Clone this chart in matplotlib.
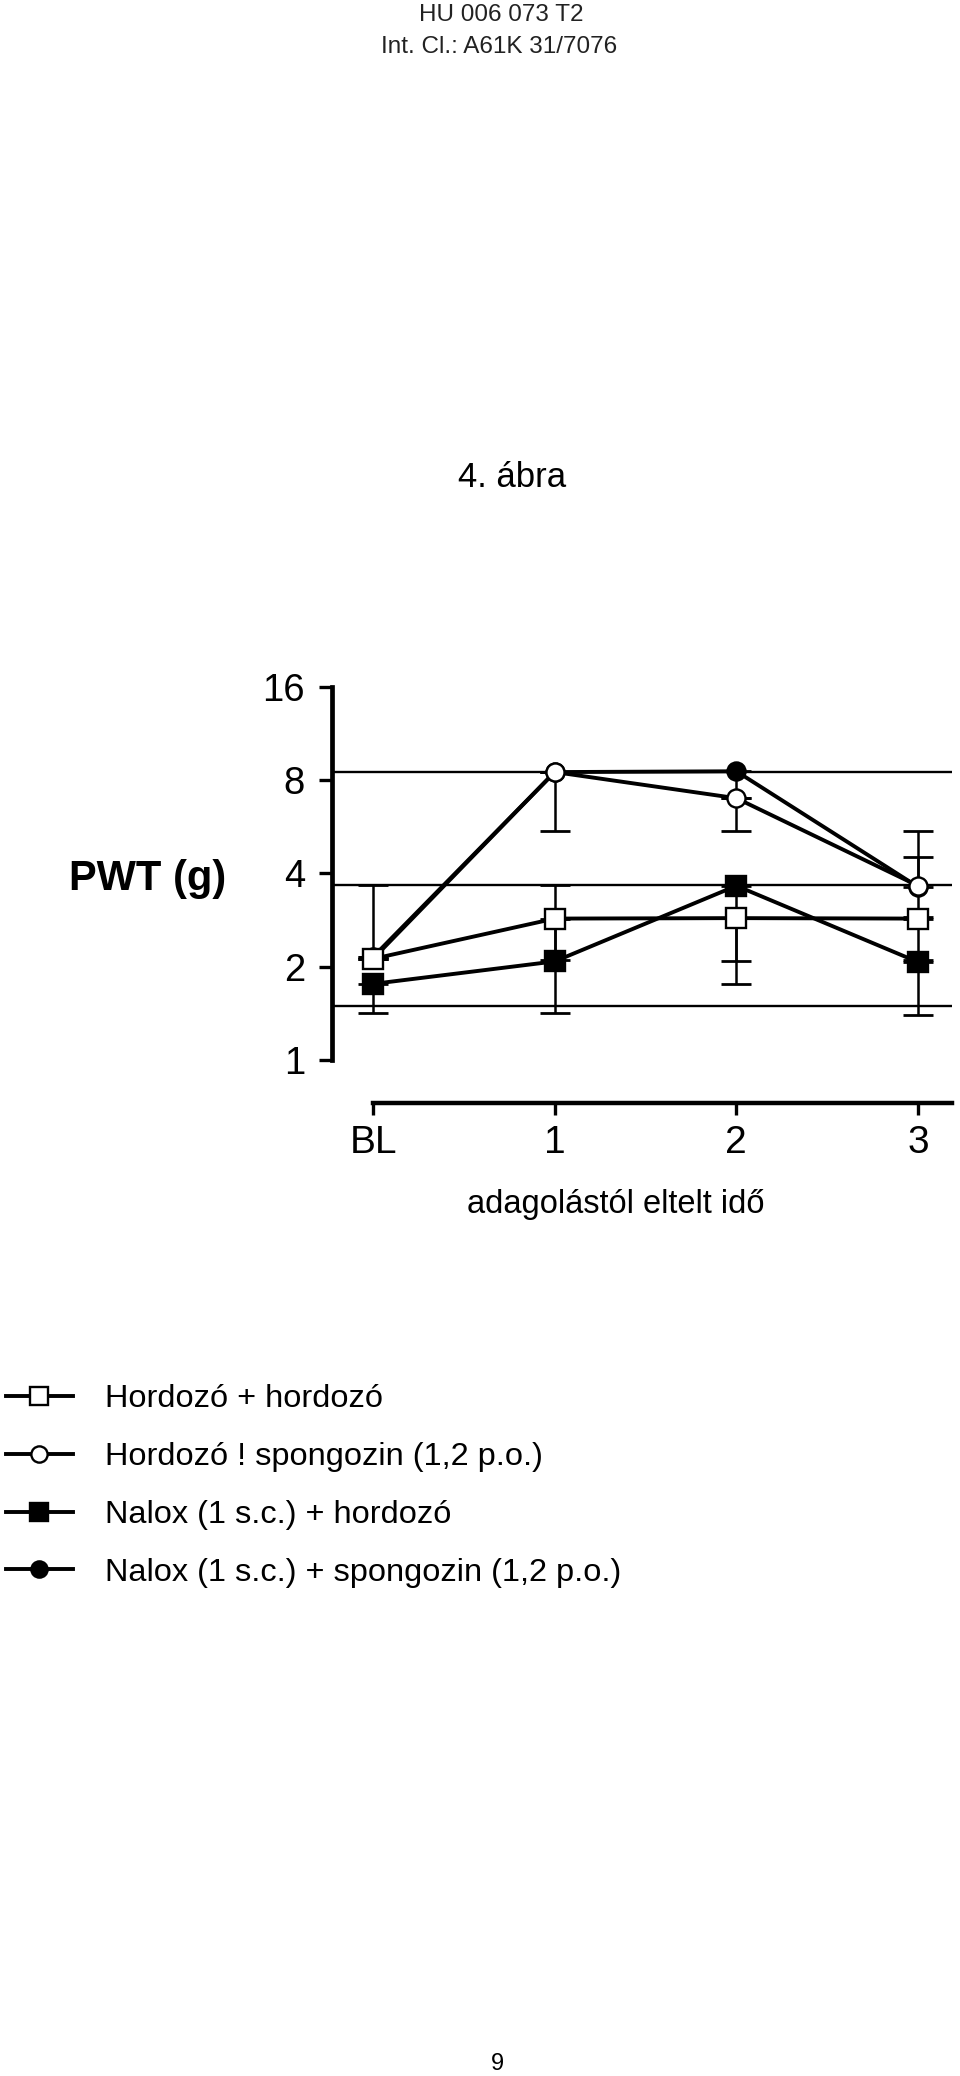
"""
4. ábra - PWT (g) vs. adagolástól eltelt idő
"""
import numpy as np
import matplotlib.pyplot as plt

plt.rcParams['font.family'] = ['Liberation Sans', 'DejaVu Sans']

W, H = 960, 2076

# x categories and y ticks
x_labels = ['BL', '1', '2', '3']
y_ticks = [1, 2, 4, 8, 16]

# mean values per group
hh = [2.12, 2.86, 2.87, 2.86]   # Hordozó + hordozó
hs = [2.15, 8.50, 7.00, 3.65]   # Hordozó ! spongozin
nh = [1.76, 2.08, 3.65, 2.07]   # Nalox + hordozó
ns = [2.12, 8.50, 8.55, 3.62]   # Nalox + spongozin

# error bar end points (same as mean -> no bar)
hh_lo = [2.12, 2.10, 2.09, 2.10]
hh_hi = [3.67, 3.67, 2.87, 2.86]
hs_lo = [2.15, 5.50, 5.50, 2.90]
hs_hi = [2.15, 8.50, 7.00, 5.50]
nh_lo = [1.42, 1.42, 1.76, 1.40]
nh_hi = [1.76, 2.86, 3.65, 2.07]
ns_lo = [2.12, 8.50, 7.00, 3.62]
ns_hi = [2.12, 8.50, 8.55, 4.53]

# horizontal reference lines in the scan
ref_lines = [8.5, 3.67, 1.49]

legend_labels = ['Hordozó + hordozó',
                 'Hordozó ! spongozin (1,2 p.o.)',
                 'Nalox (1 s.c.) + hordozó',
                 'Nalox (1 s.c.) + spongozin (1,2 p.o.)']


def fx(px):
    return px / W


def fy(py):
    return 1 - py / H


fig = plt.figure(figsize=(W / 100, H / 100), dpi=100)
fig.patch.set_facecolor('white')

ax = fig.add_axes([fx(332), fy(1103), (952 - 332) / W, (1103 - 687) / H])
x = np.arange(len(x_labels))

for v in ref_lines:
    ax.axhline(v, color='black', lw=1.7, zorder=1)

series = [
    (hh, hh_lo, hh_hi, dict(marker='s', mfc='white', ms=14), 6),
    (hs, hs_lo, hs_hi, dict(marker='o', mfc='white', ms=13), 4),
    (nh, nh_lo, nh_hi, dict(marker='s', mfc='black', ms=14), 5),
    (ns, ns_lo, ns_hi, dict(marker='o', mfc='black', ms=13), 3),
]

handles = []
for y, lo, hi, mk, z in series:
    y = np.array(y)
    yerr = [y - np.array(lo), np.array(hi) - y]
    ax.errorbar(x, y, yerr=yerr, fmt='none', ecolor='black', elinewidth=1.8,
                capsize=11, capthick=2.0, zorder=2, clip_on=False)
    ln, = ax.plot(x, y, color='black', lw=2.8, mec='black', mew=1.7,
                  zorder=z, clip_on=False, **mk)
    handles.append(ln)

ax.set_yscale('log', base=2)
ax.set_ylim(0.726, 16)
ax.set_xlim(-0.226, 3.187)
ax.set_yticks(y_ticks)
ax.set_yticklabels([str(t) for t in y_ticks])
ax.minorticks_off()
ax.set_xticks(x)
ax.set_xticklabels(x_labels)

for s in ['top', 'right']:
    ax.spines[s].set_visible(False)
ax.spines['left'].set_bounds(1, 16)
ax.spines['bottom'].set_bounds(0, 3.187)
ax.spines['left'].set_linewidth(3.4)
ax.spines['bottom'].set_linewidth(3.2)

ax.tick_params(axis='y', length=9.5, width=2.4, pad=10, labelsize=27.5)
ax.tick_params(axis='x', length=8.5, width=2.4, pad=7, labelsize=28)

# texts
fig.text(fx(501), fy(21), 'HU 006 073 T2', ha='center', va='baseline',
         fontsize=17.5, color='#222222')
fig.text(fx(499), fy(53), 'Int. Cl.: A61K 31/7076', ha='center', va='baseline',
         fontsize=17.5, color='#222222')
fig.text(fx(512), fy(487), '4. ábra', ha='center', va='baseline', fontsize=25)
fig.text(fx(148), fy(879), 'PWT (g)', ha='center', va='center',
         fontsize=30, fontweight='bold')
fig.text(fx(616), fy(1205), 'adagolástól eltelt idő', ha='center', va='center',
         fontsize=23.5)
fig.text(fx(497), fy(2064), '9', ha='center', va='center', fontsize=17)

leg = fig.legend(handles, legend_labels, loc='upper left',
                 bbox_to_anchor=(fx(6), fy(1384)), frameon=False,
                 fontsize=23.4, handlelength=2.05, handletextpad=1.0,
                 labelspacing=0.86, borderpad=0, borderaxespad=0,
                 markerscale=0.9)

fig.savefig('out.png', dpi=100, facecolor='white')
